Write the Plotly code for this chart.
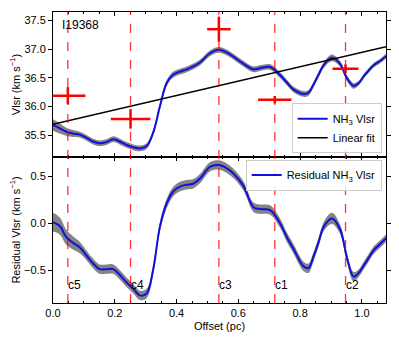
import plotly.graph_objects as go

# Vlsr profile along offset (top panel)
offset = [0.0, 0.022, 0.043, 0.065, 0.087, 0.11, 0.13, 0.151, 0.173, 0.195, 0.216, 0.238, 0.26,
          0.281, 0.303, 0.324, 0.346, 0.368, 0.39, 0.411, 0.433, 0.454, 0.476, 0.508, 0.537,
          0.56, 0.584, 0.616, 0.649, 0.67, 0.703, 0.735, 0.757, 0.778, 0.811, 0.827, 0.843,
          0.86, 0.876, 0.903, 0.93, 0.951, 0.973, 0.99, 1.006, 1.022, 1.038, 1.06, 1.078]
vlsr = [35.68, 35.62, 35.56, 35.53, 35.51, 35.45, 35.39, 35.36, 35.38, 35.43, 35.39, 35.33, 35.29,
        35.27, 35.31, 35.54, 36.0, 36.41, 36.56, 36.61, 36.65, 36.70, 36.77, 36.93, 36.99,
        36.95, 36.87, 36.75, 36.65, 36.67, 36.69, 36.55, 36.42, 36.30, 36.22, 36.24, 36.38,
        36.56, 36.72, 36.85, 36.74, 36.50, 36.36, 36.41, 36.53, 36.63, 36.72, 36.80, 36.88]
vlsr_err = [0.10, 0.09, 0.07, 0.06, 0.05, 0.05, 0.05, 0.05, 0.05, 0.05, 0.05, 0.05, 0.05,
            0.05, 0.05, 0.05, 0.05, 0.05, 0.05, 0.05, 0.05, 0.05, 0.05, 0.05, 0.05,
            0.05, 0.05, 0.05, 0.05, 0.05, 0.05, 0.05, 0.05, 0.05, 0.05, 0.05, 0.05,
            0.05, 0.05, 0.06, 0.05, 0.05, 0.05, 0.04, 0.04, 0.04, 0.04, 0.04, 0.04]

# residual after linear fit (bottom panel)
resid = [0.01, -0.03, -0.15, -0.21, -0.26, -0.35, -0.43, -0.49, -0.49, -0.49, -0.55, -0.63, -0.70,
         -0.77, -0.75, -0.50, -0.04, 0.21, 0.34, 0.39, 0.41, 0.42, 0.475, 0.60, 0.62,
         0.59, 0.53, 0.40, 0.17, 0.15, 0.14, 0.0, -0.15, -0.27, -0.46, -0.48, -0.36,
         -0.20, -0.04, 0.05, -0.07, -0.36, -0.57, -0.53, -0.45, -0.37, -0.29, -0.22, -0.16]
resid_err = [0.10, 0.09, 0.08, 0.07, 0.06, 0.05, 0.05, 0.05, 0.05, 0.05, 0.05, 0.05, 0.05,
             0.05, 0.05, 0.05, 0.05, 0.05, 0.05, 0.05, 0.05, 0.05, 0.05, 0.05, 0.05,
             0.05, 0.05, 0.05, 0.05, 0.05, 0.05, 0.05, 0.05, 0.05, 0.05, 0.05, 0.05,
             0.05, 0.05, 0.06, 0.05, 0.05, 0.05, 0.04, 0.04, 0.04, 0.04, 0.04, 0.04]

# linear fit endpoints
fit_x = [0.0, 1.078]
fit_y = [35.69, 37.045]

# cores
core_names = ["c5", "c4", "c3", "c1", "c2"]
core_x = [0.048, 0.251, 0.537, 0.718, 0.947]
core_v = [36.19, 35.785, 37.35, 36.12, 36.66]
core_xerr = [0.057, 0.064, 0.038, 0.054, 0.042]
core_verr = [0.15, 0.17, 0.22, 0.065, 0.075]

FONT = "Liberation Sans, Arial, sans-serif"

fig = go.Figure()

# top panel: shaded uncertainty band + profile
fig.add_trace(go.Scatter(x=offset, y=[v + e for v, e in zip(vlsr, vlsr_err)], mode="lines",
                         line=dict(width=0, shape="spline"), hoverinfo="skip", showlegend=False,
                         xaxis="x", yaxis="y"))
fig.add_trace(go.Scatter(x=offset, y=[v - e for v, e in zip(vlsr, vlsr_err)], mode="lines",
                         line=dict(width=0, shape="spline"), fill="tonexty",
                         fillcolor="rgba(110,110,110,0.85)", hoverinfo="skip", showlegend=False,
                         xaxis="x", yaxis="y"))
fig.add_trace(go.Scatter(x=offset, y=vlsr, mode="lines", name="NH<sub>3</sub> Vlsr",
                         line=dict(color="#1010e0", width=2, shape="spline"),
                         xaxis="x", yaxis="y", legend="legend"))
fig.add_trace(go.Scatter(x=fit_x, y=fit_y, mode="lines", name="Linear fit",
                         line=dict(color="black", width=1.5),
                         xaxis="x", yaxis="y", legend="legend"))
fig.add_trace(go.Scatter(x=core_x, y=core_v, mode="markers", marker=dict(size=0.1, color="red"),
                         error_x=dict(type="data", array=core_xerr, color="red", thickness=2.5, width=0),
                         error_y=dict(type="data", array=core_verr, color="red", thickness=2.5, width=0),
                         showlegend=False, xaxis="x", yaxis="y"))

# bottom panel: residual
fig.add_trace(go.Scatter(x=offset, y=[v + e for v, e in zip(resid, resid_err)], mode="lines",
                         line=dict(width=0, shape="spline"), hoverinfo="skip", showlegend=False,
                         xaxis="x2", yaxis="y2"))
fig.add_trace(go.Scatter(x=offset, y=[v - e for v, e in zip(resid, resid_err)], mode="lines",
                         line=dict(width=0, shape="spline"), fill="tonexty",
                         fillcolor="rgba(110,110,110,0.85)", hoverinfo="skip", showlegend=False,
                         xaxis="x2", yaxis="y2"))
fig.add_trace(go.Scatter(x=offset, y=resid, mode="lines", name="Residual NH<sub>3</sub> Vlsr",
                         line=dict(color="#1010e0", width=2, shape="spline"),
                         xaxis="x2", yaxis="y2", legend="legend2"))

# vertical dashed core lines + labels
for name, cx in zip(core_names, core_x):
    fig.add_shape(type="line", xref="x", yref="paper", x0=cx, x1=cx, y0=0, y1=1,
                  line=dict(color="rgba(255,0,0,0.8)", width=1.3, dash="dash"))
    fig.add_annotation(x=cx, y=-0.66, xref="x2", yref="y2", text=name, showarrow=False,
                       xanchor="left", xshift=-2, font=dict(size=12, color="black", family=FONT))

fig.add_annotation(x=0.022, y=37.43, xref="x", yref="y", text="I19368", showarrow=False,
                   xanchor="left", font=dict(size=12, color="black", family=FONT))

axis_common = dict(showline=True, linecolor="black", linewidth=1, mirror="ticks",
                   showgrid=False, zeroline=False, tickfont=dict(size=11, family=FONT, color="black"),
                   ticklen=4, tickcolor="black", automargin=False)

# page body keeps an 8px default margin, so the figure is sized/offset to match the window
fig.update_layout(
    width=391, height=334,
    margin=dict(l=45, r=13, t=4, b=39),
    paper_bgcolor="white", plot_bgcolor="white",
    font=dict(family=FONT, size=11, color="black"),
    xaxis=dict(domain=[0, 1], anchor="y", range=[0, 1.078], showticklabels=False,
               dtick=0.2, ticks="inside",
               minor=dict(dtick=0.05, ticks="inside", ticklen=2, tickcolor="black"), **axis_common),
    yaxis=dict(domain=[0.5017, 1], anchor="x", range=[35.12, 37.65], dtick=0.5, tickformat=".1f",
               ticks="outside", title=dict(text="Vlsr (km s<sup>−1</sup>)", font=dict(size=11), standoff=6),
               **axis_common),
    xaxis2=dict(domain=[0, 1], anchor="y2", range=[0, 1.078], dtick=0.2, tickformat=".1f",
                ticks="inside", minor=dict(dtick=0.05, ticks="inside", ticklen=2, tickcolor="black"),
                title=dict(text="Offset (pc)", font=dict(size=11), standoff=4), **axis_common),
    yaxis2=dict(domain=[0, 0.5017], anchor="x2", range=[-0.851, 0.705], dtick=0.5, tickformat=".1f",
                ticks="outside", title=dict(text="Residual Vlsr (km s<sup>−1</sup>)", font=dict(size=11), standoff=6),
                **axis_common),
    legend=dict(x=0.987, y=0.515, xanchor="right", yanchor="bottom", bgcolor="rgba(255,255,255,0.85)",
                bordercolor="#cccccc", borderwidth=1, font=dict(size=11), traceorder="normal"),
    legend2=dict(x=0.987, y=0.493, xanchor="right", yanchor="top", bgcolor="rgba(255,255,255,0.85)",
                 bordercolor="#cccccc", borderwidth=1, font=dict(size=11)),
)

fig.write_html("out.html")
